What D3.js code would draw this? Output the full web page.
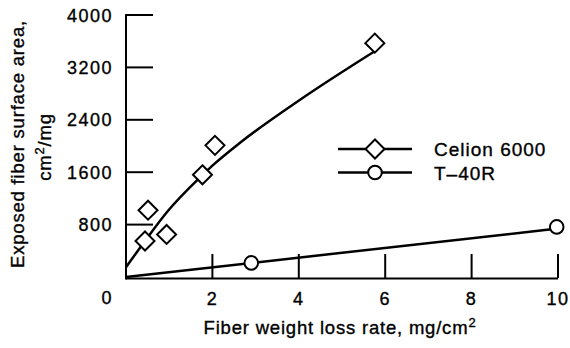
<!DOCTYPE html>
<html>
<head>
<meta charset="utf-8">
<script src="https://cdn.jsdelivr.net/npm/d3@7"></script>
<style>
  body { margin: 0; background: #fff; }
  text { font-family: "Liberation Sans", Arial, sans-serif; fill: #000; stroke: #000; stroke-width: 0.35px; }
</style>
</head>
<body>
<div id="chart"></div>
<script>
const width = 570;
const height = 348;

// Celion 6000 measured points
const celionX = [0.44, 0.51, 0.94, 1.77, 2.06, 5.76];
const celionY = [550, 1020, 650, 1560, 2010, 3570];
// Celion 6000 fitted curve
const celionFitX = [0, 0.44, 0.94, 1.76, 2.0, 2.64, 4.03, 5.74];
const celionFitY = [150, 550, 985, 1550, 1700, 2050, 2707, 3440];

// T-40R measured points
const t40X = [2.9, 9.97];
const t40Y = [215, 765];
// T-40R fitted line
const t40FitX = [0, 10];
const t40FitY = [0, 740];

const xTicks = [2, 4, 6, 8, 10];
const yTicks = [0, 800, 1600, 2400, 3200, 4000];
const legendNames = ['Celion 6000', 'T\u201340R'];

const x = d3.scaleLinear().domain([0, 10]).range([126, 558]);
const y = d3.scaleLinear().domain([0, 4000]).range([277, 15]);

const svg = d3.select('#chart').append('svg')
    .attr('width', width).attr('height', height);

// axes
svg.append('line')
    .attr('x1', x(0)).attr('x2', x(10))
    .attr('y1', 278.5).attr('y2', 278.5)
    .attr('stroke', '#000').attr('stroke-width', 2);
svg.append('line')
    .attr('x1', x(0)).attr('x2', x(0))
    .attr('y1', y(4000) - 1).attr('y2', 279.5)
    .attr('stroke', '#000').attr('stroke-width', 2);

// inward ticks
svg.selectAll('line.xtick')
    .data(xTicks)
    .join('line')
    .attr('class', 'xtick')
    .attr('x1', d => x(d)).attr('x2', d => x(d))
    .attr('y1', 278).attr('y2', 254)
    .attr('stroke', '#000').attr('stroke-width', 2);
svg.selectAll('line.ytick')
    .data(yTicks.filter(d => d > 0))
    .join('line')
    .attr('class', 'ytick')
    .attr('x1', x(0)).attr('x2', x(0) + 27)
    .attr('y1', d => y(d)).attr('y2', d => y(d))
    .attr('stroke', '#000').attr('stroke-width', 2);

// tick labels (the shared 0 sits under the y labels)
svg.selectAll('text.xlab')
    .data(xTicks)
    .join('text')
    .attr('class', 'xlab')
    .attr('x', d => x(d))
    .attr('y', 305)
    .attr('text-anchor', 'middle')
    .attr('font-size', 18)
    .attr('letter-spacing', 1.5)
    .text(d => d);
svg.selectAll('text.ylab')
    .data(yTicks)
    .join('text')
    .attr('class', 'ylab')
    .attr('x', 113)
    .attr('y', d => d === 0 ? 304 : y(d) + 6.5)
    .attr('text-anchor', 'end')
    .attr('font-size', 18)
    .attr('letter-spacing', 1.5)
    .text(d => d);

// axis titles
const xt = svg.append('text')
    .attr('x', 340).attr('y', 334)
    .attr('text-anchor', 'middle')
    .attr('font-size', 18.5)
    .attr('letter-spacing', 0.8);
xt.append('tspan').text('Fiber weight loss rate, mg/cm');
xt.append('tspan').attr('dy', -7).attr('font-size', 13).text('2');

const yt = svg.append('g').attr('transform', 'translate(0,144) rotate(-90)');
yt.append('text')
    .attr('x', 0).attr('y', 24)
    .attr('text-anchor', 'middle')
    .attr('font-size', 18.5)
    .attr('letter-spacing', 0.8)
    .text('Exposed fiber surface area,');
const yt2 = yt.append('text')
    .attr('x', -3).attr('y', 51)
    .attr('text-anchor', 'middle')
    .attr('font-size', 18.5)
    .attr('letter-spacing', 0.8);
yt2.append('tspan').text('cm');
yt2.append('tspan').attr('dy', -7).attr('font-size', 13).text('2');
yt2.append('tspan').attr('dy', 7).text('/mg');

// fitted lines
const line = d3.line().x(d => x(d[0])).y(d => y(d[1])).curve(d3.curveMonotoneX);
svg.append('path')
    .datum(celionFitX.map((v, i) => [v, celionFitY[i]]))
    .attr('d', line)
    .attr('fill', 'none').attr('stroke', '#000').attr('stroke-width', 2.5);
svg.append('path')
    .datum(t40FitX.map((v, i) => [v, t40FitY[i]]))
    .attr('d', line)
    .attr('fill', 'none').attr('stroke', '#000').attr('stroke-width', 2.5);

// markers
const diamond = (cx, cy, r) => `M${cx},${cy - r}L${cx + r},${cy}L${cx},${cy + r}L${cx - r},${cy}Z`;
svg.selectAll('path.celion')
    .data(celionX.map((v, i) => [v, celionY[i]]))
    .join('path')
    .attr('class', 'celion')
    .attr('d', d => diamond(x(d[0]), y(d[1]), 9.5))
    .attr('fill', '#fff').attr('stroke', '#000').attr('stroke-width', 2);
svg.selectAll('circle.t40')
    .data(t40X.map((v, i) => [v, t40Y[i]]))
    .join('circle')
    .attr('class', 't40')
    .attr('cx', d => x(d[0])).attr('cy', d => y(d[1]))
    .attr('r', 6.8)
    .attr('fill', '#fff').attr('stroke', '#000').attr('stroke-width', 2);

// legend
const legend = svg.selectAll('g.legend')
    .data(legendNames)
    .join('g')
    .attr('class', 'legend')
    .attr('transform', (d, i) => `translate(0,${149 + i * 23.5})`);
legend.append('line')
    .attr('x1', 338).attr('x2', 412)
    .attr('stroke', '#000').attr('stroke-width', 2.5);
legend.filter((d, i) => i === 0).append('path')
    .attr('d', diamond(375, 0, 9.5))
    .attr('fill', '#fff').attr('stroke', '#000').attr('stroke-width', 2);
legend.filter((d, i) => i === 1).append('circle')
    .attr('cx', 375).attr('r', 6.8)
    .attr('fill', '#fff').attr('stroke', '#000').attr('stroke-width', 2);
legend.append('text')
    .attr('x', 434).attr('y', 7)
    .attr('font-size', 19)
    .attr('letter-spacing', 1)
    .text(d => d);
</script>
</body>
</html>
